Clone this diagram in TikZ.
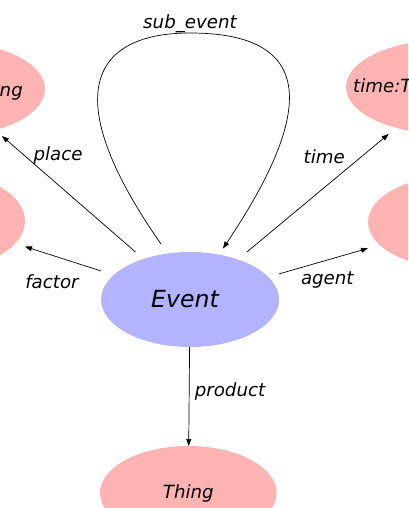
\documentclass[tikz,border=0pt]{standalone}
\usepackage{fontspec}
\setmainfont{DejaVu Sans}
\usetikzlibrary{arrows.meta}
\definecolor{pinkfill}{RGB}{255,179,179}
\definecolor{bluefill}{RGB}{179,179,255}
\begin{document}
\begin{tikzpicture}[x=1pt,y=-1pt,
  lab/.style={font=\fontsize{18.2}{22}\selectfont\itshape, inner sep=0pt},
  biglab/.style={font=\fontsize{23.6}{28}\selectfont\itshape, inner sep=0pt},
  edge/.style={draw=black, line width=0.7pt, -{Triangle[length=7pt,width=5pt]}},
  ellnode/.style n args={3}{rectangle, inner sep=0pt, outer sep=0pt,
    minimum width=2*#1pt, minimum height=2*#2pt,
    path picture={\fill[#3] (path picture bounding box.center) ellipse [x radius=#1pt, y radius=#2pt];}}
]
\path[use as bounding box, clip] (0,0) rectangle (408,508);
% nodes
\node[ellnode={89}{47.5}{bluefill}, label={[biglab, xshift=-5pt]center:Event}] (ev) at (190,299.5) {};
\node[ellnode={97}{47}{pinkfill}] (tl) at (-52,89) {};
\node[ellnode={80}{47}{pinkfill}] (ml) at (-55,221) {};
\node[ellnode={99}{47}{pinkfill}] (tr) at (445,87) {};
\node[ellnode={92}{47}{pinkfill}] (mr) at (460,222) {};
\node[ellnode={88.3}{47}{pinkfill}, lab] (th) at (188.3,493) {Thing};
\node[lab, anchor=base east] (tltext) at (23,96) {ing};
\node[lab, anchor=base west] (trtext) at (353,93) {time:T};
% edges
\draw[edge] (ev) -- (tl);
\draw[edge] (ev) -- (ml);
\draw[edge] (ev) -- (tr);
\draw[edge] (ev) -- (mr);
\draw[edge] (ev) -- (th);
% self loop
\coordinate (ls) at (161,244);
\coordinate (lt) at (190,33);
\coordinate (le) at (223,248.5);
\draw[edge] (ls) .. controls (52,88) and (98,33) .. (lt)
  .. controls (300,33) and (328,92) .. (le);
% labels
\node[lab, anchor=base] (lsub) at (190,29) {sub\_event};
\node[lab, anchor=base] (lplace) at (58,160) {place};
\node[lab, anchor=base] (lfactor) at (52,288) {factor};
\node[lab, anchor=base] (ltime) at (324.3,163) {time};
\node[lab, anchor=base] (lagent) at (327.3,284) {agent};
\node[lab, anchor=base] (lproduct) at (230,396) {product};
\end{tikzpicture}
\end{document}
